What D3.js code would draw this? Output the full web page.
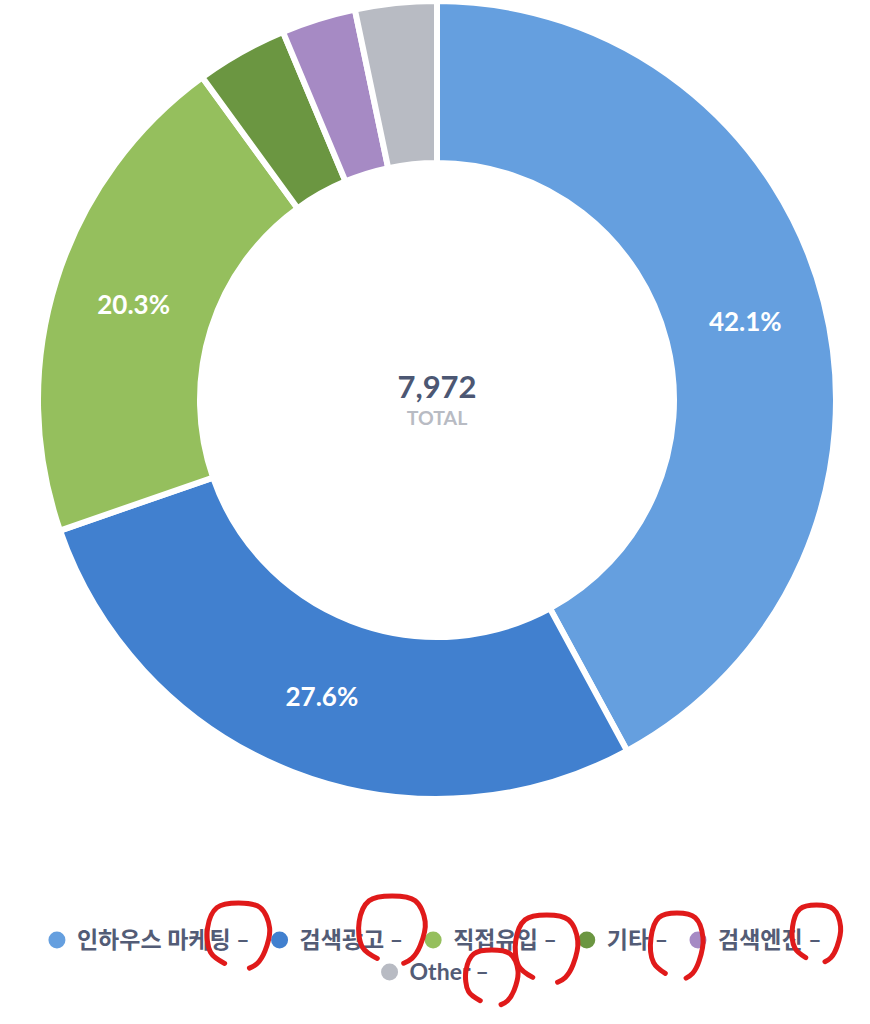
<!DOCTYPE html>
<html><head><meta charset="utf-8">
<script src="https://cdn.jsdelivr.net/npm/d3@7"></script>
<style>
body{margin:0;background:#fff;}
svg{display:block;}
</style></head>
<body>
<svg id="chart" width="870" height="1024"></svg>
<script>
const categories = ["인하우스 마케팅", "검색광고", "직접유입", "기타", "검색엔진", "Other"];
const values = [3356, 2200, 1618, 295, 240, 263];
const colors = ["#659fdf", "#4180cf", "#95bf5d", "#6b9641", "#a68ac4", "#b8bbc3"];
const totalLabel = "TOTAL";
// hand-drawn red marks around each legend dash: offset from dash end and radii
const marks = [
  {dx: -11, dy: -6, rx: 31, ry: 31},
  {dx: -11, dy: -12, rx: 33, ry: 32},
  {dx: -10, dy: 7, rx: 31, ry: 32},
  {dx: 9, dy: 4, rx: 26, ry: 31},
  {dx: -5, dy: -8, rx: 24, ry: 27},
  {dx: 3, dy: 4, rx: 26, ry: 26}
];

const svg = d3.select("#chart");
const W = 870;
const cx = 437, cy = 400, R = 399, r = 237;
const total = d3.sum(values);

const pie = d3.pie().sort(null).value(d => d.v);
const arcs = pie(values.map((v, i) => ({v, i})));
const arc = d3.arc().innerRadius(r).outerRadius(R);

const g = svg.append("g").attr("transform", `translate(${cx},${cy})`);
g.selectAll("path.slice").data(arcs).join("path")
  .attr("class", "slice")
  .attr("d", arc)
  .attr("fill", d => colors[d.data.i])
  .attr("stroke", "#fff")
  .attr("stroke-width", 6)
  .attr("stroke-linejoin", "miter");

const fmtPct = d3.format(".1%");
g.selectAll("text.pct").data(arcs.filter(d => d.data.v / total > 0.05)).join("text")
  .attr("class", "pct")
  .attr("transform", d => `translate(${arc.centroid(d)})`)
  .attr("text-anchor", "middle")
  .attr("dy", "0.36em")
  .attr("fill", "#fff")
  .style("font-family", "Lato, 'Noto Sans', sans-serif")
  .style("font-weight", "700")
  .style("font-size", "26px")
  .text(d => fmtPct(d.data.v / total));

g.append("text")
  .attr("text-anchor", "middle")
  .attr("y", -2)
  .attr("fill", "#4c5773")
  .style("font-family", "Lato, sans-serif")
  .style("font-weight", "700")
  .style("font-size", "31px")
  .text(d3.format(",")(total));
g.append("text")
  .attr("text-anchor", "middle")
  .attr("y", 25)
  .attr("fill", "#b8bbc3")
  .style("font-family", "Lato, sans-serif")
  .style("font-weight", "700")
  .style("font-size", "19.5px")
  .text(totalLabel);

// legend
const legend = svg.append("g");
const items = categories.map((c, i) => {
  const it = legend.append("g");
  it.append("circle").attr("r", 8.5).attr("cx", 0).attr("cy", 0).attr("fill", colors[i]);
  const t = it.append("text").attr("x", 20).attr("dy", "0.36em")
    .attr("fill", "#535c76")
    .style("font-family", "Lato, 'Noto Sans CJK KR', sans-serif")
    .style("font-weight", "700")
    .style("font-size", "23px")
    .text(c + " –");
  const w = 20 + t.node().getComputedTextLength();
  return {it, w, i};
});
const gapItem = 30, maxRow = 820;
const rows = [[]];
let rw = 0;
items.forEach(d => {
  const add = (rows[rows.length-1].length ? gapItem : 0) + d.w;
  if (rw + add > maxRow) { rows.push([]); rw = d.w; } else rw += add;
  rows[rows.length-1].push(d);
});
const rowY0 = 940, rowH = 32;
const pos = [];
rows.forEach((row, ri) => {
  const tw = d3.sum(row, d => d.w) + gapItem * (row.length - 1) + 8.5;
  let x = (W - tw) / 2 + 8.5;
  row.forEach(d => {
    d.it.attr("transform", `translate(${x},${rowY0 + ri * rowH})`);
    pos[d.i] = {x: x + d.w, y: rowY0 + ri * rowH};
    x += d.w + gapItem;
  });
});

// hand-drawn red annotation loops around each legend dash
const loop = d3.line().curve(d3.curveCatmullRom.alpha(0.5));
const loopShape = [[-0.45,0.95],[-0.9,0.6],[-1,-0.2],[-0.7,-0.85],[0,-1],[0.7,-0.85],[1,-0.2],[0.85,0.55],[0.6,0.95],[0.35,1.1]];
svg.append("g").selectAll("path").data(marks).join("path")
  .attr("d", (a, i) => {
    const c = [pos[i].x + a.dx, pos[i].y + a.dy];
    return loop(loopShape.map(([u, v]) => [c[0] + u * a.rx, c[1] + v * a.ry]));
  })
  .attr("fill", "none")
  .attr("stroke", "#e01a1a")
  .attr("stroke-width", 5)
  .attr("stroke-linecap", "round")
  .attr("stroke-linejoin", "round");
</script>
</body></html>
